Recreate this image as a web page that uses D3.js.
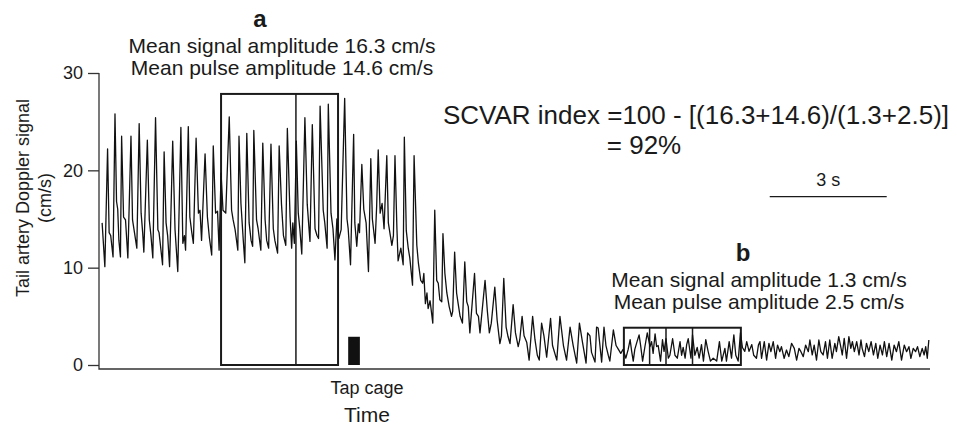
<html>
<head>
<script src="https://d3js.org/d3.v7.min.js"></script>
<style>
  body { margin: 0; background: #fff; }
  text { font-family: "Liberation Sans", Arial, Helvetica, sans-serif; fill: #1a1a1a; }
  .trace { fill: none; stroke: #111; stroke-width: 1.3px; stroke-linejoin: round; }
  .box { fill: none; stroke: #1a1a1a; stroke-width: 2px; }
  .frame { fill: none; stroke: #333; stroke-width: 1.3px; }
</style>
</head>
<body>
<div id="chart"></div>
<script>
// tail artery Doppler signal, [time (s), velocity (cm/s)]
const trace = [
  [0.08,14.6],[0.15,10.1],[0.22,22.2],[0.26,13.6],[0.30,13.3],[0.36,11.1],
  [0.41,25.8],[0.45,16.8],[0.48,16.0],[0.51,12.8],[0.55,11.1],
  [0.58,23.5],[0.63,15.2],[0.68,14.9],[0.74,11.0],
  [0.82,23.5],[0.86,14.9],[0.91,13.6],[0.97,12.0],
  [1.03,24.8],[1.08,15.6],[1.12,13.6],[1.15,11.6],
  [1.24,23.1],[1.29,14.9],[1.33,13.4],[1.38,11.0],
  [1.45,25.4],[1.51,13.9],[1.54,13.6],[1.63,10.3],
  [1.67,21.9],[1.72,14.6],[1.76,13.3],[1.81,10.1],
  [1.89,23.0],[1.95,13.9],[2.02,9.6],
  [2.10,24.4],[2.15,12.5],[2.19,13.3],[2.22,11.8],
  [2.29,24.5],[2.33,15.2],[2.38,13.6],[2.42,12.5],
  [2.49,23.3],[2.55,15.6],[2.59,15.9],[2.63,12.8],
  [2.72,21.7],[2.78,15.2],[2.83,13.1],[2.89,11.3],
  [2.93,22.5],[2.99,15.6],[3.04,15.8],[3.08,11.8],
  [3.13,19.7],[3.18,15.9],[3.25,15.6],
  [3.34,25.5],[3.40,15.9],[3.44,14.9],[3.49,13.9],[3.56,11.8],
  [3.59,23.5],[3.64,16.6],[3.70,12.8],[3.74,10.5],
  [3.79,23.8],[3.85,14.6],[3.90,12.8],[3.94,12.2],
  [3.97,24.1],[4.04,14.9],[4.08,14.0],[4.15,11.8],
  [4.20,22.8],[4.26,14.9],[4.30,12.8],[4.35,12.0],
  [4.41,22.7],[4.47,14.0],[4.51,12.8],[4.58,11.5],
  [4.62,22.5],[4.68,16.5],[4.73,13.3],[4.79,12.3],
  [4.83,24.3],[4.90,15.2],[4.94,12.0],[4.97,14.6],[5.01,12.5],
  [5.06,23.0],[5.11,15.6],[5.15,14.0],[5.20,11.4],
  [5.28,25.4],[5.34,16.5],[5.41,12.7],
  [5.47,24.7],[5.54,14.0],[5.59,13.3],[5.63,13.0],
  [5.67,26.6],[5.75,15.9],[5.79,14.6],[5.85,12.0],
  [5.88,26.8],[5.95,15.6],[6.00,14.0],[6.05,10.8],[6.10,15.0],[6.15,13.0],[6.21,13.9],
  [6.30,27.4],[6.36,15.0],[6.39,14.0],[6.45,10.3],
  [6.53,23.7],[6.56,14.6],[6.61,12.2],[6.65,14.5],[6.68,13.6],
  [6.74,20.6],[6.79,16.0],[6.85,14.6],[6.91,9.6],
  [6.97,21.2],[7.01,15.0],[7.08,12.5],[7.12,16.3],
  [7.16,22.1],[7.21,15.6],[7.26,16.6],[7.31,14.0],
  [7.38,21.5],[7.42,14.6],[7.51,12.3],[7.55,13.3],
  [7.59,21.5],[7.64,14.0],[7.67,10.7],[7.74,12.0],[7.80,10.3],
  [7.83,23.4],[7.88,13.8],[7.93,12.0],[7.97,11.0],[8.04,8.2],
  [8.08,21.5],[8.15,12.3],[8.19,10.5],[8.25,8.7],[8.30,8.4],[8.33,9.4],[8.37,6.3],
  [8.41,7.4],[8.44,5.8],[8.49,6.6],[8.56,4.3],
  [8.61,15.9],[8.66,8.7],[8.70,8.4],[8.74,6.7],[8.79,6.5],
  [8.82,13.5],[8.87,9.4],[8.92,7.4],[8.98,6.0],[9.04,5.0],[9.07,5.5],
  [9.12,11.6],[9.17,7.4],[9.21,6.3],[9.26,5.0],[9.32,4.3],
  [9.38,10.6],[9.43,6.5],[9.47,6.0],[9.51,3.3],
  [9.63,9.4],[9.68,5.3],[9.73,5.0],[9.77,3.3],
  [9.90,8.7],[9.96,5.5],[10.01,3.3],[10.06,4.3],
  [10.15,8.0],[10.21,4.6],[10.28,2.2],[10.32,3.0],
  [10.38,8.9],[10.44,3.9],[10.49,2.9],[10.54,2.2],
  [10.62,6.2],[10.68,3.3],[10.75,1.9],[10.79,2.6],
  [10.85,5.0],[10.90,3.0],[10.97,2.3],[11.03,0.5],
  [11.12,5.0],[11.18,2.6],[11.24,1.0],[11.29,0.5],
  [11.35,4.3],[11.41,3.0],[11.48,0.8],
  [11.58,4.8],[11.63,2.0],[11.74,0.5],
  [11.82,5.0],[11.91,2.0],[11.99,0.5],
  [12.08,3.9],[12.16,2.0],[12.25,0.2],
  [12.32,4.3],[12.40,2.3],[12.49,0.2],
  [12.53,3.3],[12.59,3.0],[12.63,1.3],[12.72,0.3],
  [12.76,3.9],[12.80,3.8],[12.89,0.3],
  [12.95,3.9],[13.00,2.0],[13.06,1.0],[13.10,0.4],
  [13.19,3.6],[13.26,2.0],[13.32,1.6],[13.38,1.2],[13.44,1.6],
  [13.51,0.7],[13.57,1.6],[13.62,2.6],[13.66,1.4],[13.70,0.4],[13.74,1.6],[13.79,2.3],
  [13.85,3.1],[13.89,2.0],[13.94,0.4],
  [14.00,1.9],[14.06,3.3],[14.13,1.9],[14.17,2.4],[14.21,1.2],[14.26,3.2],[14.30,1.9],
  [14.34,2.0],[14.40,0.4],[14.45,2.6],[14.49,1.4],[14.54,2.7],[14.60,0.7],[14.64,1.0],
  [14.71,2.7],[14.77,1.0],[14.83,0.7],[14.90,2.4],[14.94,1.0],[14.98,1.8],[15.03,0.7],
  [15.07,2.1],[15.11,2.7],[15.18,0.7],[15.22,3.1],[15.28,1.0],[15.34,1.8],[15.39,0.7],
  [15.45,2.1],[15.50,0.4],[15.56,2.6],[15.62,1.4],[15.68,0.4],[15.75,0.7],[15.84,0.4],
  [15.91,2.4],[15.97,0.4],[16.05,1.7],[16.09,0.4],[16.16,2.4],[16.22,0.7],[16.28,3.1],
  [16.33,1.0],[16.39,0.4],[16.45,3.3],[16.50,1.8],[16.56,1.4],[16.61,2.4],[16.67,1.4],
  [16.74,2.1],[16.79,1.0],[16.86,0.7],
  [16.91,2.05],[16.95,2.40],[16.99,0.69],[17.06,2.40],[17.12,0.51],[17.18,2.23],
  [17.23,1.37],[17.29,2.40],[17.35,0.69],[17.40,2.05],[17.46,1.37],[17.50,1.88],
  [17.57,0.69],[17.63,1.54],[17.69,0.86],[17.76,2.23],[17.83,1.71],[17.89,0.51],
  [17.95,1.71],[18.00,1.37],[18.06,0.86],[18.12,2.05],[18.19,1.37],[18.23,2.57],
  [18.29,1.03],[18.34,2.05],[18.40,0.51],[18.46,2.57],[18.51,1.37],[18.57,1.03],
  [18.63,2.40],[18.68,0.69],[18.74,2.57],[18.80,0.69],[18.87,2.23],[18.91,1.37],
  [18.97,2.91],[19.03,1.71],[19.06,1.03],[19.11,2.74],[19.17,0.69],[19.23,2.91],
  [19.28,1.71],[19.32,2.40],[19.37,1.37],[19.43,2.40],[19.49,1.03],[19.54,2.57],
  [19.57,1.71],[19.63,0.86],[19.68,2.23],[19.74,1.37],[19.80,2.40],[19.86,1.03],
  [19.92,2.23],[19.97,0.69],[20.03,2.05],[20.09,1.03],[20.14,2.40],[20.20,0.86],
  [20.26,2.23],[20.33,0.51],[20.39,2.05],[20.45,1.37],[20.51,2.40],[20.58,0.51],
  [20.65,2.05],[20.71,1.37],[20.77,1.88],[20.82,0.69],[20.88,1.71],[20.94,1.37],
  [20.99,1.88],[21.05,0.86],[21.11,1.71],[21.16,1.03],[21.20,1.88],[21.24,0.69],
  [21.28,2.57]
];

const yTicks = [0, 10, 20, 30];

// analysis windows: [start s, end s, top cm/s]
const boxes = [[3.13, 6.13, 27.85], [13.46, 16.46, 3.83]];
// divider lines inside the windows (s)
const dividers = [[5.05, 27.85], [14.12, 3.83], [14.54, 3.83], [15.22, 3.83]];
// cage tap marker: [start s, end s, height]
const tapMark = [6.39, 6.69, 2.9];
// 3 s scale bar
const scaleBar = [17.2, 20.2, 17.3];

const labelA = ["Mean signal amplitude 16.3 cm/s", "Mean pulse amplitude 14.6 cm/s"];
const labelB = ["Mean signal amplitude 1.3 cm/s", "Mean pulse amplitude 2.5 cm/s"];
const formula = ["SCVAR index =100 - [(16.3+14.6)/(1.3+2.5)]", "= 92%"];

var width = 957, height = 428;

var x = d3.scaleLinear().domain([0, 21.31]).range([99, 930]);
var y = d3.scaleLinear().domain([0, 30]).range([365, 73]);

const svg = d3.select("#chart").append("svg")
    .attr("width", width)
    .attr("height", height);

// y axis ticks and labels
var yaxis = d3.axisLeft(y).tickValues(yTicks).tickSize(11).tickPadding(5).tickSizeOuter(0);
var gy = svg.append("g")
    .attr("transform", "translate(" + x(0) + ",0)")
    .call(yaxis);
gy.select(".domain").remove();
gy.selectAll(".tick line").attr("stroke", "#333").attr("stroke-width", 1.3);
gy.selectAll(".tick text")
    .style("font-family", '"Liberation Sans", Arial, sans-serif')
    .style("font-size", "18px")
    .attr("fill", "#1a1a1a");

// L-shaped frame
svg.append("path")
    .attr("class", "frame")
    .attr("d", "M" + x(0) + "," + y(30) + "V" + (y(0) + 4) + "H" + x(21.31));

// boxes
svg.selectAll(".box")
    .data(boxes)
    .enter()
    .append("rect")
    .attr("class", "box")
    .attr("x", d => x(d[0]))
    .attr("y", d => y(d[2]))
    .attr("width", d => x(d[1]) - x(d[0]))
    .attr("height", d => y(0) - y(d[2]));

svg.selectAll(".divider")
    .data(dividers)
    .enter()
    .append("line")
    .attr("x1", d => x(d[0]))
    .attr("x2", d => x(d[0]))
    .attr("y1", d => y(d[1]))
    .attr("y2", y(0))
    .attr("stroke", "#1a1a1a")
    .attr("stroke-width", 1.5);

// trace
svg.append("path")
    .datum(trace)
    .attr("class", "trace")
    .attr("d", d3.line().x(d => x(d[0])).y(d => y(d[1])));

// tap marker
svg.append("rect")
    .attr("x", x(tapMark[0]))
    .attr("y", y(tapMark[2]))
    .attr("width", x(tapMark[1]) - x(tapMark[0]))
    .attr("height", y(0) - y(tapMark[2]))
    .attr("fill", "#111");

// scale bar
svg.append("line")
    .attr("x1", x(scaleBar[0]))
    .attr("x2", x(scaleBar[1]))
    .attr("y1", y(scaleBar[2]))
    .attr("y2", y(scaleBar[2]))
    .attr("stroke", "#1a1a1a")
    .attr("stroke-width", 1.3);

function label(str, px, py, size, weight) {
    return svg.append("text")
        .attr("x", px)
        .attr("y", py)
        .attr("text-anchor", "middle")
        .style("font-size", size + "px")
        .style("font-weight", weight || "normal")
        .text(str);
}

label("3 s", (x(scaleBar[0]) + x(scaleBar[1])) / 2, 186, 18);

label("a", 260, 27, 24, "bold");
label(labelA[0], 282, 53, 21);
label(labelA[1], 282, 75, 21);

label("b", 743, 261, 24, "bold");
label(labelB[0], 759, 287, 21);
label(labelB[1], 759, 309, 21);

label(formula[0], 696, 124, 26);
label(formula[1], 644, 154, 26);

label("Tap cage", 367, 394, 18);
label("Time", 367, 422, 21);

// y label
var yl = svg.append("g").attr("transform", "translate(0,198) rotate(-90)");
yl.append("text").attr("x", 0).attr("y", 29).attr("text-anchor", "middle")
    .style("font-size", "18px").text("Tail artery Doppler signal");
yl.append("text").attr("x", 0).attr("y", 51).attr("text-anchor", "middle")
    .style("font-size", "18px").text("(cm/s)");
</script>
</body>
</html>
